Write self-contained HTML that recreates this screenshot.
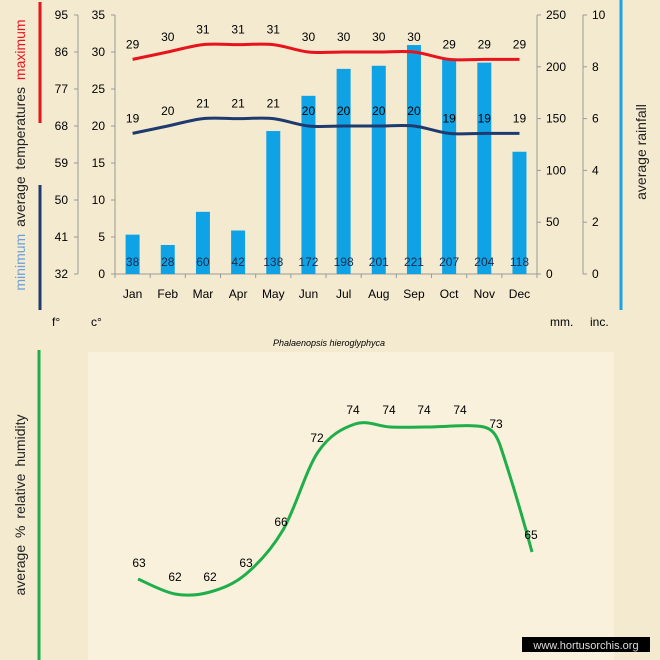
<!DOCTYPE html>
<html><head><meta charset="utf-8"><style>
body{margin:0;background:#f4ead0;}
svg{display:block;font-family:"Liberation Sans",sans-serif;}
</style></head><body>
<svg id="s" width="660" height="660" viewBox="0 0 660 660" xmlns="http://www.w3.org/2000/svg">
<rect width="660" height="660" fill="#f4ead0"/>
<rect x="88" y="352" width="526" height="308" fill="#f9f1dc"/>
<g id="g"></g>
</svg>
<script>
const g=document.getElementById('g');let h='';
const Y=c=>274-7.4*c, M=m=>274-m*259/250;
h+='<line x1="40" y1="2" x2="40" y2="123" stroke="#e8141c" stroke-width="3"/>';
h+='<line x1="40" y1="185" x2="40" y2="310" stroke="#1f3a6e" stroke-width="3"/>';
h+='<line x1="621" y1="0" x2="621" y2="310" stroke="#1ba3e3" stroke-width="3"/>';
h+='<line x1="39" y1="350" x2="39" y2="660" stroke="#1fae4a" stroke-width="3"/>';
h+='<text transform="translate(25,155) rotate(-90)" text-anchor="middle" font-size="14" fill="#222" word-spacing="3"><tspan fill="#6a9fd8">minimum</tspan>  average  temperatures  <tspan fill="#e8141c">maximum</tspan></text>';
h+='<text transform="translate(646,152) rotate(-90)" text-anchor="middle" font-size="14" fill="#222">average rainfall</text>';
h+='<text transform="translate(25,505) rotate(-90)" text-anchor="middle" font-size="14" fill="#222" word-spacing="3">average %  relative humidity</text>';
const ax=(x,lab,vals,tickLeft)=>{h+=`<line x1="${x}" y1="15" x2="${x}" y2="274" stroke="#999"/>`;
 vals.forEach((v,i)=>{const y=274-i*259/(vals.length-1);
 h+=`<line x1="${tickLeft?x-4:x}" y1="${y}" x2="${tickLeft?x:x+4}" y2="${y}" stroke="#999"/>`;
 h+= tickLeft?`<text x="${x-10}" y="${y+4}" text-anchor="end" font-size="12">${v}</text>`:`<text x="${x+9}" y="${y+4}" font-size="12">${v}</text>`;});};
ax(78,'',[32,41,50,59,68,77,86,95],true);
ax(115,'',[0,5,10,15,20,25,30,35],true);
ax(537,'',[0,50,100,150,200,250],false);
ax(583,'',[0,2,4,6,8,10],false);
h+='<line x1="115" y1="274" x2="537" y2="274" stroke="#999"/>';
const mo=['Jan','Feb','Mar','Apr','May','Jun','Jul','Aug','Sep','Oct','Nov','Dec'];
const rain=[38,28,60,42,138,172,198,201,221,207,204,118];
const mx=[29,30,31,31,31,30,30,30,30,29,29,29], mn=[19,20,21,21,21,20,20,20,20,19,19,19];
const cx=i=>132.6+35.17*i;
for(let i=0;i<=12;i++){const x=115+35.17*i;h+=`<line x1="${x}" y1="274" x2="${x}" y2="278" stroke="#999"/>`;}
mo.forEach((m,i)=>{const x=cx(i);
 h+=`<rect x="${x-7}" y="${M(rain[i])}" width="14" height="${274-M(rain[i])}" fill="#0fa3e6"/>`;
 h+=`<text x="${x}" y="298" text-anchor="middle" font-size="12">${m}</text>`;});
function smooth(p){let d=`M${p[0][0]},${p[0][1]}`;for(let i=0;i<p.length-1;i++){const p0=p[i-1]||p[i],p1=p[i],p2=p[i+1],p3=p[i+2]||p2;
 d+=` C${p1[0]+(p2[0]-p0[0])/6},${p1[1]+(p2[1]-p0[1])/6} ${p2[0]-(p3[0]-p1[0])/6},${p2[1]-(p3[1]-p1[1])/6} ${p2[0]},${p2[1]}`;}return d;}
h+=`<path d="${smooth(mx.map((v,i)=>[cx(i),Y(v)]))}" fill="none" stroke="#e8141c" stroke-width="3"/>`;
h+=`<path d="${smooth(mn.map((v,i)=>[cx(i),Y(v)]))}" fill="none" stroke="#1f3a6e" stroke-width="3"/>`;
mo.forEach((m,i)=>{const x=cx(i);
 h+=`<text x="${x}" y="${Y(mx[i])-11}" text-anchor="middle" font-size="12">${mx[i]}</text>`;
 h+=`<text x="${x}" y="${Y(mn[i])-11}" text-anchor="middle" font-size="12">${mn[i]}</text>`;
 h+=`<text x="${x}" y="266" text-anchor="middle" font-size="12" fill="#1a2a4a">${rain[i]}</text>`;});
h+='<text x="52" y="326" font-size="12">f°</text><text x="91" y="326" font-size="12">c°</text><text x="550" y="326" font-size="12">mm.</text><text x="590" y="326" font-size="12">inc.</text>';
h+='<text x="329" y="346" text-anchor="middle" font-size="9" font-style="italic">Phalaenopsis hieroglyphyca</text>';
const hp=[[138,579],[175,594],[210,592],[246,574],[283,530],[318,452],[355,424],[390,427],[425,427]];
let d=smooth(hp)+' C445,427 470,424 484,427 C492,429 496,434 500,445 C510,475 522,515 532,552';
h+=`<path d="${d}" fill="none" stroke="#1fae4a" stroke-width="3"/>`;
const hl=[[139,567,63],[175,581,62],[210,581,62],[246,567,63],[281,526,66],[317,442,72],[353,414,74],[389,414,74],[424,414,74],[460,414,74],[496,428,73],[531,539,65]];
hl.forEach(a=>h+=`<text x="${a[0]}" y="${a[1]}" text-anchor="middle" font-size="12">${a[2]}</text>`);
h+='<rect x="522" y="637" width="128" height="15" fill="#000"/><text x="586" y="649" text-anchor="middle" font-size="11" fill="#ddd">www.hortusorchis.org</text>';
g.innerHTML=h;
</script>
</body></html>
